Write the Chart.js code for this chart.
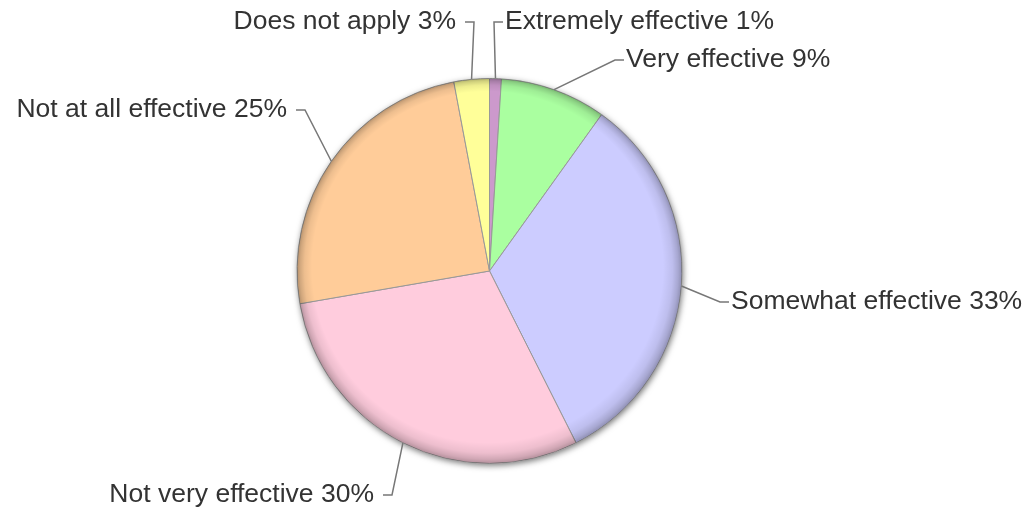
<!DOCTYPE html>
<html>
<head>
<meta charset="utf-8">
<title>Effectiveness</title>
<script src="https://cdn.jsdelivr.net/npm/chart.js@4.4.1/dist/chart.umd.min.js"></script>
<style>
  html, body { margin: 0; padding: 0; background: #fff; }
  #wrap { position: relative; width: 1029px; height: 510px; }
</style>
</head>
<body>
<div id="wrap"><canvas id="pie-chart"></canvas></div>
<script>
// answers, clockwise from 12 o'clock
const categories = [
  'Extremely effective',
  'Very effective',
  'Somewhat effective',
  'Not very effective',
  'Not at all effective',
  'Does not apply'
];
const percents = [1, 9, 33, 30, 25, 3];
const sliceColors = ['#cc99cc', '#aaffa0', '#ccccff', '#ffccdd', '#ffcc99', '#ffff99'];

// where each label's connector bends, relative to the pie centre,
// and which side the text sits on
const labelElbows = [
  { dx: 4.5, dy: -249, side: 'right' },
  { dx: 125.5, dy: -211, side: 'right' },
  { dx: 230.5, dy: 31, side: 'right' },
  { dx: -97.5, dy: 224, side: 'left' },
  { dx: -184.5, dy: -161, side: 'left' },
  { dx: -15.5, dy: -249, side: 'left' }
];

// soft drop shadow under the pie and a darker rim on top of it
const rimShade = {
  id: 'rimShade',
  beforeDatasetsDraw(chart) {
    const arc = chart.getDatasetMeta(0).data[0];
    if (!arc) return;
    const ctx = chart.ctx;
    ctx.save();
    ctx.shadowColor = 'rgba(0,0,0,0.55)';
    ctx.shadowBlur = 6;
    ctx.shadowOffsetX = 1;
    ctx.shadowOffsetY = 2;
    ctx.fillStyle = '#999';
    ctx.beginPath();
    ctx.arc(arc.x, arc.y, arc.outerRadius, 0, Math.PI * 2);
    ctx.fill();
    ctx.restore();
  },
  afterDatasetsDraw(chart) {
    const arc = chart.getDatasetMeta(0).data[0];
    if (!arc) return;
    const ctx = chart.ctx;
    const r = arc.outerRadius;
    const g = ctx.createRadialGradient(arc.x - 2, arc.y - 4, r - 17, arc.x, arc.y, r);
    g.addColorStop(0, 'rgba(0,0,0,0)');
    g.addColorStop(0.5, 'rgba(0,0,0,0.07)');
    g.addColorStop(0.8, 'rgba(0,0,0,0.18)');
    g.addColorStop(1, 'rgba(0,0,0,0.3)');
    ctx.save();
    ctx.beginPath();
    ctx.arc(arc.x, arc.y, r, 0, Math.PI * 2);
    ctx.fillStyle = g;
    ctx.fill();
    ctx.restore();
  }
};

// outside labels with bent connector lines
const sliceLabels = {
  id: 'sliceLabels',
  afterDraw(chart) {
    const ctx = chart.ctx;
    const arcs = chart.getDatasetMeta(0).data;
    ctx.save();
    ctx.font = '26.5px "Liberation Sans", Arial, sans-serif';
    ctx.textBaseline = 'middle';
    ctx.lineWidth = 1.5;
    ctx.strokeStyle = '#777';
    ctx.fillStyle = '#333';
    arcs.forEach((arc, i) => {
      const mid = (arc.startAngle + arc.endAngle) / 2;
      const rimX = arc.x + Math.cos(mid) * arc.outerRadius;
      const rimY = arc.y + Math.sin(mid) * arc.outerRadius;
      const el = labelElbows[i];
      const bx = arc.x + el.dx;
      const by = arc.y + el.dy;
      const right = el.side === 'right';
      const endX = bx + (right ? 9 : -9);
      ctx.beginPath();
      ctx.moveTo(rimX, rimY);
      ctx.lineTo(bx, by);
      ctx.lineTo(endX, by);
      ctx.stroke();
      ctx.textAlign = right ? 'left' : 'right';
      ctx.fillText(categories[i] + ' ' + percents[i] + '%', right ? endX + 2 : endX - 9, by);
    });
    ctx.restore();
  }
};

const ctx = document.getElementById('pie-chart').getContext('2d');
const pieChart = new Chart(ctx, {
  type: 'pie',
  data: {
    labels: categories,
    datasets: [{
      data: percents,
      backgroundColor: sliceColors,
      borderColor: '#999',
      borderWidth: 1
    }]
  },
  options: {
    responsive: true,
    maintainAspectRatio: false,
    animation: false,
    layout: { padding: { top: 78, bottom: 46, left: 0, right: 50 } },
    plugins: {
      legend: { display: false },
      tooltip: { enabled: false }
    }
  },
  plugins: [rimShade, sliceLabels]
});
</script>
</body>
</html>
